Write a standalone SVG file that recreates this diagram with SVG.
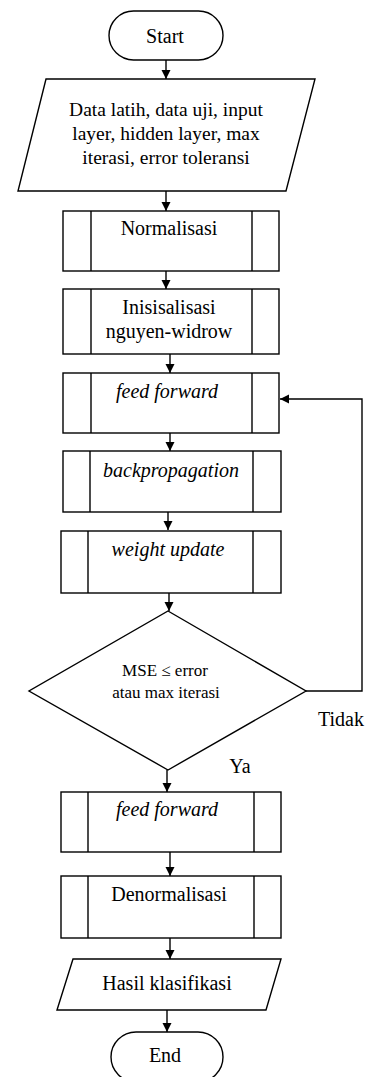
<svg xmlns="http://www.w3.org/2000/svg" width="367" height="1077" viewBox="0 0 367 1077">
<defs>
<style>
.s{fill:#fff;stroke:#000;stroke-width:1.4}
.l{fill:none;stroke:#000;stroke-width:1.4}
.t{font-family:'Liberation Serif','DejaVu Serif',serif;font-size:20px;fill:#000;text-anchor:middle}
.i{font-style:italic}
.p{font-size:19.5px}
.d{font-size:17px}
.c{fill:none;stroke:#000;stroke-width:1.4;marker-end:url(#ah)}
</style>
<marker id="ah" markerWidth="10" markerHeight="10" refX="9" refY="5" orient="auto" markerUnits="userSpaceOnUse">
<path d="M0,0.5 L9,5 L0,9.5 Z" fill="#000"/>
</marker>
</defs>
<rect width="367" height="1077" fill="#fff"/>
<g id="connectors">
<path class="c" d="M166,60 V79"/>
<path class="c" d="M166,191 V211"/>
<path class="c" d="M166,271 V289"/>
<path class="c" d="M170,354 V373"/>
<path class="c" d="M170,433 V451"/>
<path class="c" d="M168,512 V530"/>
<path class="c" d="M169,593 V611"/>
<path class="c" d="M167,770 V792"/>
<path class="c" d="M170,852 V876"/>
<path class="c" d="M170,938 V959"/>
<path class="c" d="M167,1010 V1032"/>
<path class="c" d="M306,691 H362 V399 H280"/>
<text class="t" x="341" y="726">Tidak</text>
<text class="t" x="240" y="773">Ya</text>
</g>
<g id="start">
<rect class="s" x="109" y="11" width="114" height="49" rx="24.5"/>
<text class="t" x="165" y="43">Start</text>
</g>
<g id="input">
<polygon class="s" points="46,79 315,79 286,191 18,191"/>
<text class="t p" x="166" y="116">Data latih, data uji, input</text>
<text class="t p" x="166" y="140">layer, hidden layer, max</text>
<text class="t p" x="166" y="164">iterasi, error toleransi</text>
</g>
<g id="normalisasi">
<rect class="s" x="63" y="211" width="216" height="60"/>
<path class="l" d="M91,211 V271 M252,211 V271"/>
<text class="t" x="169" y="235">Normalisasi</text>
</g>
<g id="inisialisasi">
<rect class="s" x="63" y="289" width="216" height="65"/>
<path class="l" d="M91,289 V354 M252,289 V354"/>
<text class="t" x="169" y="314">Inisisalisasi</text>
<text class="t" x="169" y="338">nguyen-widrow</text>
</g>
<g id="feedforward1">
<rect class="s" x="63" y="373" width="216" height="60"/>
<path class="l" d="M91,373 V433 M252,373 V433"/>
<text class="t i" x="167" y="398">feed forward</text>
</g>
<g id="backpropagation">
<rect class="s" x="63" y="451" width="218" height="61"/>
<path class="l" d="M90,451 V512 M253,451 V512"/>
<text class="t i" x="171" y="477">backpropagation</text>
</g>
<g id="weightupdate">
<rect class="s" x="61" y="531" width="220" height="62"/>
<path class="l" d="M88,531 V593 M253,531 V593"/>
<text class="t i" x="168" y="556">weight update</text>
</g>
<g id="decision">
<polygon class="s" points="168,611 306,691 168,770 29,691"/>
<text class="t d" x="165" y="676">MSE ≤ error</text>
<text class="t d" x="166" y="698">atau max iterasi</text>
</g>
<g id="feedforward2">
<rect class="s" x="61" y="792" width="220" height="60"/>
<path class="l" d="M88,792 V852 M254,792 V852"/>
<text class="t i" x="167" y="816">feed forward</text>
</g>
<g id="denormalisasi">
<rect class="s" x="61" y="876" width="220" height="62"/>
<path class="l" d="M88,876 V938 M254,876 V938"/>
<text class="t" x="169" y="901">Denormalisasi</text>
</g>
<g id="hasil">
<polygon class="s" points="73,959 281,959 266,1010 57,1010"/>
<text class="t" x="167" y="990">Hasil klasifikasi</text>
</g>
<g id="end">
<rect class="s" x="111" y="1032" width="112" height="50" rx="25"/>
<text class="t" x="165" y="1062">End</text>
</g>
</svg>
